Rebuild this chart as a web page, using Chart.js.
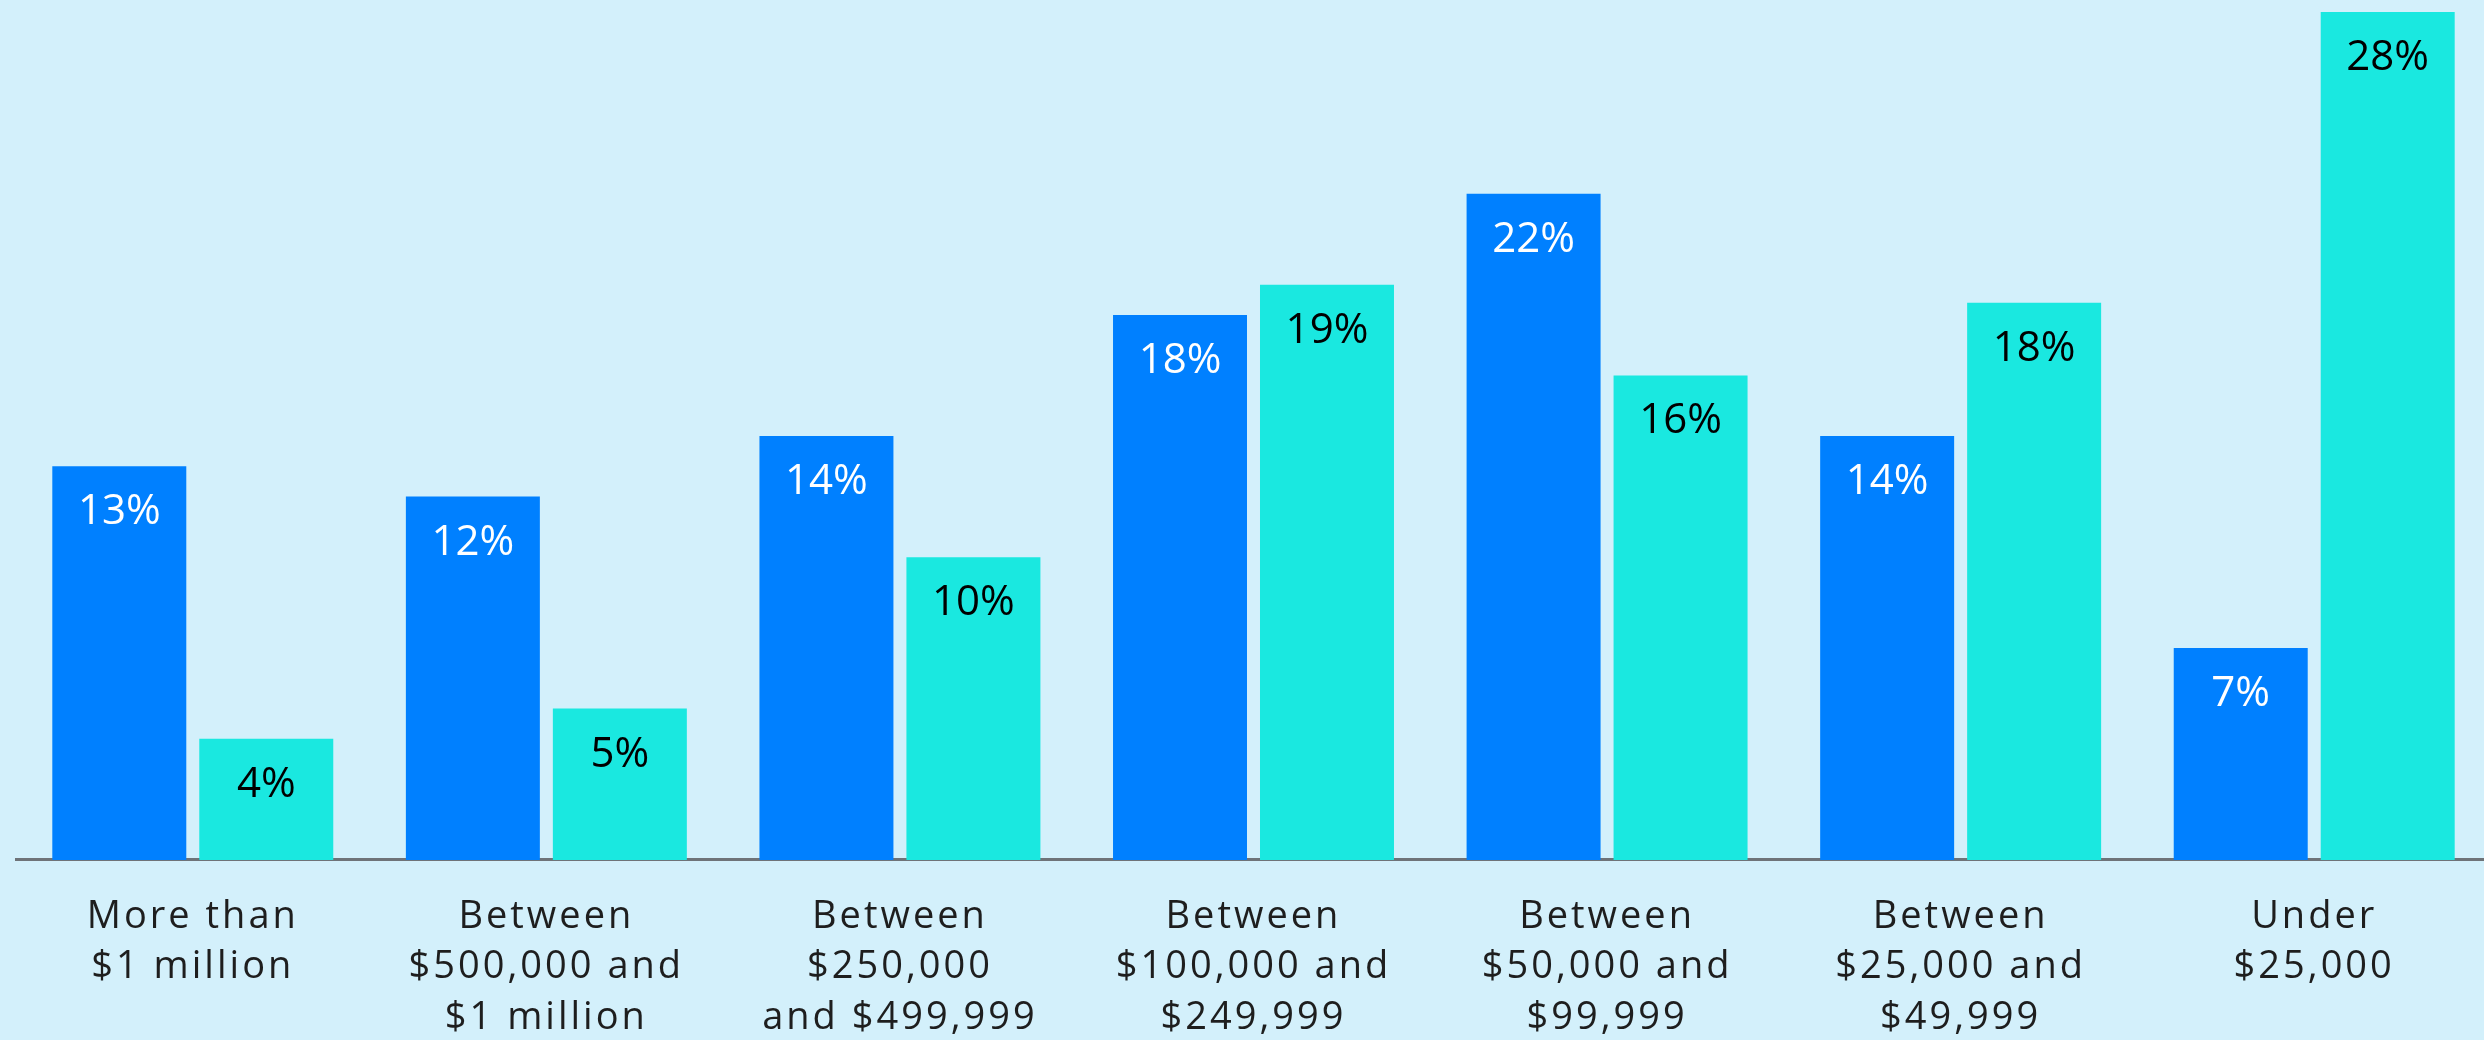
<!DOCTYPE html>
<html>
<head>
<meta charset="utf-8">
<script src="https://cdn.jsdelivr.net/npm/chart.js@4/dist/chart.umd.min.js"></script>
<style>
  html, body { margin: 0; padding: 0; background: #D3F0FB; overflow: hidden; width: 2484px; height: 1040px; }
  #wrap { position: absolute; left: 0; top: 0; width: 2491px; height: 1075px; }
</style>
</head>
<body>
<div id="wrap"><canvas id="c" width="2491" height="1075"></canvas></div>
<script>
const categories = [
  ["More than", "$1 million"],
  ["Between", "$500,000 and", "$1 million"],
  ["Between", "$250,000", "and $499,999"],
  ["Between", "$100,000 and", "$249,999"],
  ["Between", "$50,000 and", "$99,999"],
  ["Between", "$25,000 and", "$49,999"],
  ["Under", "$25,000"]
];
const seriesNames = ["Series 1", "Series 2"];
const seriesBlue = [13, 12, 14, 18, 22, 14, 7];
const seriesTeal = [4, 5, 10, 19, 16, 18.4, 28];
const seriesColors = ["#0080FF", "#1AE8E0"];
const labelColors = ["#FFFFFF", "#000000"];

const FONT = '"Open Sans", Lato, sans-serif';

const spacing = {
  id: 'spacing',
  beforeLayout(chart) { chart.ctx.letterSpacing = '3px'; },
  beforeDraw(chart) { chart.ctx.letterSpacing = '3px'; }
};

const valueLabels = {
  id: 'valueLabels',
  afterDatasetsDraw(chart) {
    const ctx = chart.ctx;
    ctx.save();
    ctx.letterSpacing = '0px';
    ctx.font = '400 42px ' + FONT;
    ctx.textAlign = 'center';
    ctx.textBaseline = 'middle';
    chart.data.datasets.forEach((ds, i) => {
      const meta = chart.getDatasetMeta(i);
      meta.data.forEach((bar, j) => {
        ctx.fillStyle = labelColors[i];
        ctx.fillText(Math.round(ds.data[j]) + '%', bar.x, bar.y + 46);
      });
    });
    ctx.restore();
  }
};

new Chart(document.getElementById('c'), {
  type: 'bar',
  data: {
    labels: categories,
    datasets: [
      { label: seriesNames[0], data: seriesBlue, backgroundColor: seriesColors[0] },
      { label: seriesNames[1], data: seriesTeal, backgroundColor: seriesColors[1] }
    ]
  },
  options: {
    responsive: false,
    animation: false,
    devicePixelRatio: 1,
    layout: { padding: { left: 16, right: 0, top: 0, bottom: 0 } },
    categoryPercentage: 0.8314,
    barPercentage: 0.9116,
    plugins: { legend: { display: false }, tooltip: { enabled: false } },
    scales: {
      x: {
        grid: { display: false, drawTicks: false },
        border: { display: true, color: '#6E7378', width: 3 },
        ticks: {
          color: '#1E1E1E',
          padding: 32,
          maxRotation: 0,
          autoSkip: false,
          font: { family: FONT, size: 38, lineHeight: 1.325 }
        }
      },
      y: {
        display: false,
        min: 0,
        max: 28.4
      }
    }
  },
  plugins: [spacing, valueLabels]
});
</script>
</body>
</html>
